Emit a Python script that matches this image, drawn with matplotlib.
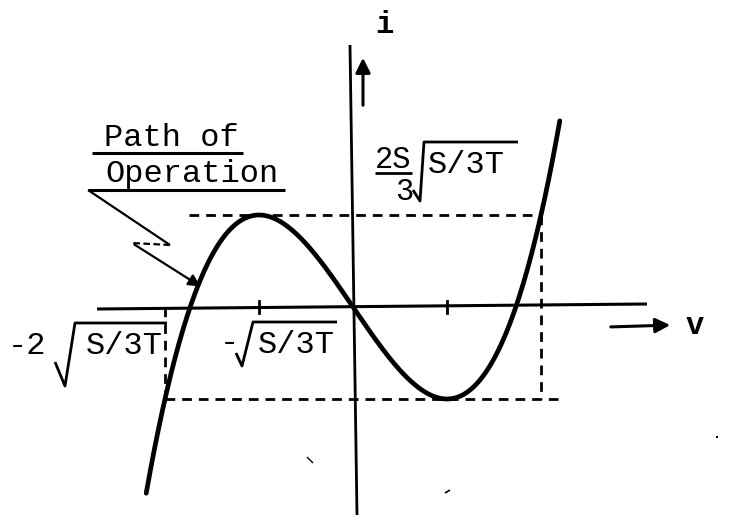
import numpy as np
import matplotlib
matplotlib.use("Agg")
from matplotlib import pyplot as plt

# Negative-resistance characteristic  i = -S v + T v^3
S = 3.0
T = 1.0
a = np.sqrt(S / (3 * T))          # v at the peak / valley
peak = 2 * S / 3 * a              # current at the peak
v_span = 2.2 * a                  # how far the curve is drawn each way

tick_v = [-a, a]
tick_labels = ["-2", "-", "2S", "3"]

# page layout: pixel position of the origin and pixels per unit
X0, Y0 = 353, 307
SX, SY = 94 * a, 92 / peak


def P(x, y):
    # page pixel -> data coordinates
    return (x - X0) / SX, (Y0 - y) / SY


def seg(pts, **kw):
    xy = np.array([P(x, y) for x, y in pts])
    ax.plot(xy[:, 0], xy[:, 1], color="black", solid_capstyle="butt", **kw)


fig = plt.figure(figsize=(7.33, 5.19), dpi=100)
ax = fig.add_axes([0, 0, 1, 1])
ax.set_xlim(P(0, 0)[0], P(733, 0)[0])
ax.set_ylim(P(0, 519)[1], P(0, 0)[1])
ax.axis("off")

mono = "Liberation Mono"

# axes
seg([(97, 309), (647, 304)], lw=2.2)
seg([(350, 45), (357, 515)], lw=2.0)

# the curve
v = np.linspace(-v_span, v_span, 400)
i = -S * v + T * v ** 3
ax.plot(v, i, color="black", lw=3.4, solid_capstyle="round")

# dashed box around the swing
dash = dict(color="black", lw=2.0, dashes=(3.5, 2.5))
ax.plot([-1.75 * a, 2 * a], [peak, peak], **dash)
ax.plot([-2 * a, 2.23 * a], [-peak, -peak], **dash)
ax.plot([-2 * a, -2 * a], [0, -peak], **dash)
ax.plot([2 * a, 2 * a], [peak, -peak], **dash)

# ticks on the v axis
for t in tick_v:
    ax.plot([t, t], [-0.12, 0.12], color="black", lw=2.0)

# direction arrows and axis names
arr = dict(arrowstyle="-|>", color="black", lw=2.2, mutation_scale=22)
ax.annotate("", xy=P(363, 55), xytext=P(363, 108), arrowprops=arr)
ax.annotate("", xy=P(673, 325), xytext=P(608, 327), arrowprops=arr)
ax.text(*P(384, 25), "i", family=mono, fontsize=22, fontweight="bold",
        ha="center", va="center")
ax.text(*P(695, 326), "v", family=mono, fontsize=22, fontweight="bold",
        ha="center", va="center")

# "-2 sqrt(S/3T)"
ax.text(*P(27, 346), tick_labels[0], family=mono, fontsize=23,
        ha="center", va="center")
seg([(55, 362), (65, 386), (75, 323), (167, 323)], lw=2.0)
ax.text(*P(124, 346), "S/3T", family=mono, fontsize=23,
        ha="center", va="center")

# "-sqrt(S/3T)"
ax.text(*P(229, 343), tick_labels[1], family=mono, fontsize=23,
        ha="center", va="center")
seg([(236, 353), (242, 366), (253, 322), (337, 322)], lw=2.0)
ax.text(*P(296, 345), "S/3T", family=mono, fontsize=23,
        ha="center", va="center")

# "2S/3 sqrt(S/3T)"
ax.text(*P(393, 160), tick_labels[2], family=mono, fontsize=22,
        ha="center", va="center")
seg([(375, 173), (412, 173)], lw=2.0)
ax.text(*P(404, 192), tick_labels[3], family=mono, fontsize=22,
        ha="center", va="center")
seg([(413, 190), (420, 201), (424, 142), (518, 142)], lw=2.0)
ax.text(*P(466, 165), "S/3T", family=mono, fontsize=23,
        ha="center", va="center")

# "Path of Operation" note with its pointer
ax.text(*P(171, 138), "Path of", family=mono, fontsize=23,
        ha="center", va="center")
seg([(92, 153), (243, 153)], lw=2.2)
ax.text(*P(192, 174), "Operation", family=mono, fontsize=23,
        ha="center", va="center")
seg([(88, 190), (285, 190)], lw=2.2)
seg([(88, 190), (170, 245)], lw=1.6)
ax.plot(*zip(P(170, 245), P(132, 243)), color="black", lw=1.6,
        dashes=(3, 1.5))
ax.annotate("", xy=P(203, 288), xytext=P(132, 243),
            arrowprops=dict(arrowstyle="-|>", color="black", lw=1.6,
                            mutation_scale=18))

# specks on the page
seg([(307, 457), (313, 463)], lw=1.0)
seg([(445, 493), (450, 490)], lw=1.2)
seg([(716, 437), (718, 437)], lw=1.5)

fig.savefig("out.png", dpi=100, facecolor="white")
